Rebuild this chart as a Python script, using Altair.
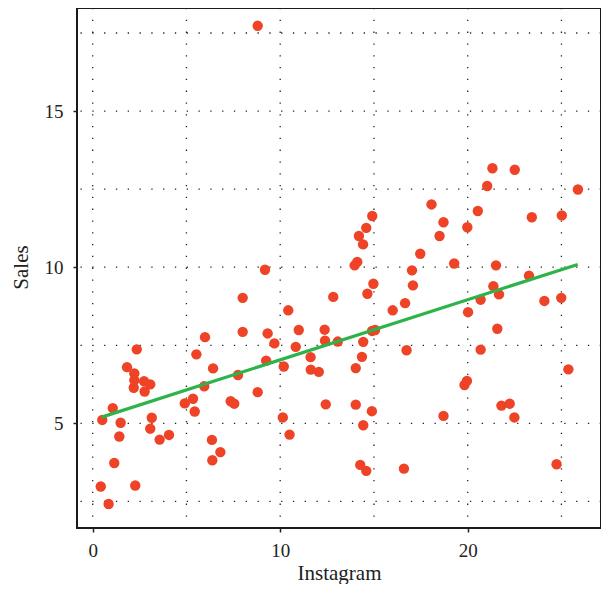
import altair as alt
import pandas as pd

instagram = [8.00, 8.00, 5.99, 2.35, 5.53, 1.83, 2.22, 6.42, 2.22, 2.74, 3.07, 2.19, 2.77, 7.75, 5.95, 8.80,
             1.07, 4.91, 5.35, 5.44, 7.36, 7.55, 0.51, 1.49, 3.15, 3.07, 1.42, 3.57, 4.07, 6.36, 6.81, 6.38,
             1.15, 0.43, 2.27, 0.85, 8.80,
             14.91, 14.59, 14.20, 14.42, 14.11, 13.97, 9.19, 14.97, 14.65, 12.83, 16.00, 10.43, 9.33, 10.99,
             12.37, 9.69, 10.83, 12.39, 13.07, 14.90, 15.06, 14.43, 14.36, 14.03, 9.25, 10.19, 11.62, 11.63,
             12.06, 12.43, 14.03, 14.89, 10.14, 14.43, 10.50, 14.27, 14.59, 16.60,
             21.32, 22.51, 21.04, 25.88, 18.07, 20.54, 23.42, 25.02, 18.71, 19.98, 18.50, 17.47, 19.28, 21.51,
             17.03, 23.27, 17.08, 21.37, 21.67, 20.69, 24.09, 24.99, 16.66, 20.02, 21.58, 16.74, 20.69, 25.37,
             19.96, 19.83, 21.80, 22.24, 22.49, 18.71, 24.74]
sales = [9.02, 7.93, 7.76, 7.37, 7.21, 6.80, 6.60, 6.76, 6.38, 6.35, 6.25, 6.14, 6.02, 6.55, 6.19, 6.00,
         5.49, 5.64, 5.79, 5.38, 5.71, 5.63, 5.11, 5.02, 5.18, 4.83, 4.58, 4.48, 4.63, 4.47, 4.08, 3.82,
         3.73, 2.98, 3.01, 2.42, 17.73,
         11.64, 11.26, 11.00, 10.73, 10.17, 10.06, 9.92, 9.47, 9.15, 9.05, 8.62, 8.62, 7.88, 7.99,
         8.00, 7.56, 7.45, 7.65, 7.62, 7.96, 7.99, 7.61, 7.13, 6.77, 7.01, 6.82, 7.12, 6.72,
         6.65, 5.61, 5.60, 5.39, 5.19, 4.94, 4.64, 3.67, 3.48, 3.55,
         13.17, 13.12, 12.60, 12.49, 12.01, 11.80, 11.60, 11.66, 11.44, 11.28, 11.00, 10.43, 10.12, 10.06,
         9.90, 9.73, 9.42, 9.39, 9.13, 8.96, 8.92, 9.02, 8.85, 8.56, 8.03, 7.34, 7.36, 6.73,
         6.36, 6.23, 5.57, 5.63, 5.19, 5.24, 3.69]

fit_x = [0.48, 25.87]
fit_y = [5.20, 10.09]

grid_x = [0, 5, 10, 15, 20, 25]
grid_y = [2.5, 5, 7.5, 10, 12.5, 15, 17.5]
x_ticks = [0, 10, 20]
y_ticks = [5, 10, 15]

FONT = "Liberation Serif"
xscale = alt.Scale(domain=[-0.837, 27.11], nice=False, zero=False)
yscale = alt.Scale(domain=[1.65, 18.30], nice=False, zero=False)

xaxis = alt.Axis(values=x_ticks, grid=False, domain=False, tickSize=4, tickWidth=1.5,
                 tickColor="#222", labelPadding=9, labelFontSize=19, labelFont=FONT,
                 labelColor="#222", title="Instagram", titleFont=FONT, titleFontSize=21,
                 titleFontWeight="normal", titleColor="#222", titleY=51,
                 titleBaseline="alphabetic")
yaxis = alt.Axis(values=y_ticks, grid=False, domain=False, tickSize=4, tickWidth=1.5,
                 tickColor="#222", labelPadding=10, labelFontSize=19, labelFont=FONT,
                 labelColor="#222", title="Sales", titleFont=FONT, titleFontSize=21,
                 titleFontWeight="normal", titleColor="#222", titleX=-56, titleY=259,
                 titleBaseline="middle", titleAlign="center", titleAngle=270)

pts = pd.DataFrame({"Instagram": instagram, "Sales": sales})
fit = pd.DataFrame({"Instagram": fit_x, "Sales": fit_y})
gx = pd.DataFrame({"Instagram": grid_x})
gy = pd.DataFrame({"Sales": grid_y})

X = alt.X("Instagram:Q", scale=xscale, axis=xaxis)
Y = alt.Y("Sales:Q", scale=yscale, axis=yaxis)

grid_v = alt.Chart(gx).mark_rule(color="#222", strokeWidth=1.3, strokeDash=[1.3, 10.5]).encode(x=X)
grid_h = alt.Chart(gy).mark_rule(color="#222", strokeWidth=1.3, strokeDash=[1.3, 10.5]).encode(y=Y)

points = alt.Chart(pts).mark_circle(size=108, color="#EE4326", opacity=1).encode(x=X, y=Y)

line = alt.Chart(fit).mark_line(color="#2EB34A", strokeWidth=3.2).encode(x=X, y=Y)

chart = alt.layer(grid_v, grid_h, points, line).properties(
    width=524, height=520,
    autosize=alt.AutoSizeParams(type="none"),
    padding={"left": 69, "top": 0, "right": 0, "bottom": 56},
    background="white",
).configure_view(stroke="#1a1a1a", strokeWidth=2)

chart.save("out.html", embed_options={"renderer": "svg", "actions": False})
